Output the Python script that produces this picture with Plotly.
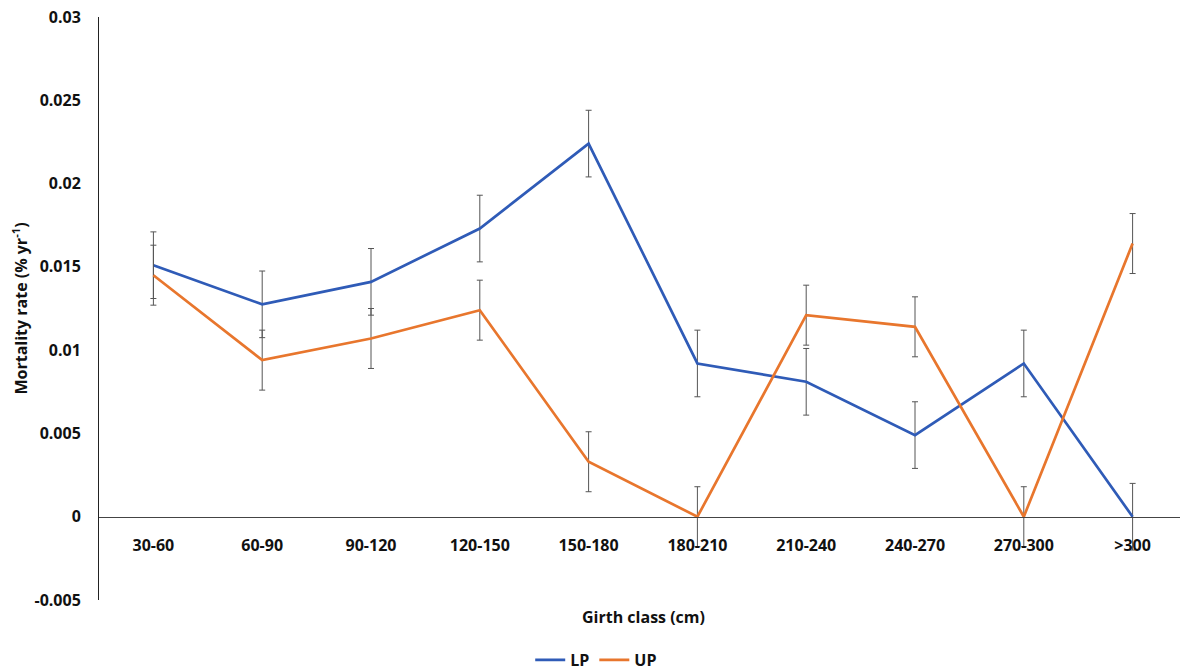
import plotly.graph_objects as go

categories = ["30-60", "60-90", "90-120", "120-150", "150-180", "180-210",
              "210-240", "240-270", "270-300", ">300"]
lp_values = [0.0151, 0.01275, 0.0141, 0.0173, 0.0224, 0.0092, 0.0081, 0.0049, 0.0092, 0.0]
up_values = [0.0145, 0.0094, 0.0107, 0.0124, 0.0033, 0.0, 0.0121, 0.0114, 0.0, 0.0164]
lp_err = [0.002] * 10
up_err = [0.0018] * 10

y_ticks = [-0.005, 0, 0.005, 0.01, 0.015, 0.02, 0.025, 0.03]
y_tick_text = ["-0.005", "0", "0.005", "0.01", "0.015", "0.02", "0.025", "0.03"]

FONT = "Open Sans"
BLUE = "#2F5BB7"
ORANGE = "#E8762D"
ERR = "#555555"
TXT = "#111111"

fig = go.Figure()
fig.add_trace(go.Scatter(
    x=categories, y=lp_values, name="LP", mode="lines",
    line=dict(color=BLUE, width=2.7),
    error_y=dict(type="data", array=lp_err, visible=True, color=ERR, thickness=1, width=3),
))
fig.add_trace(go.Scatter(
    x=categories, y=up_values, name="UP", mode="lines",
    line=dict(color=ORANGE, width=2.7),
    error_y=dict(type="data", array=up_err, visible=True, color=ERR, thickness=1, width=3),
))

y_min, y_max = -0.005, 0.03
zero_pos = (0 - y_min) / (y_max - y_min)

fig.update_layout(
    width=1180, height=664,
    margin=dict(l=91, r=1, t=9, b=72, autoexpand=False),
    paper_bgcolor="white", plot_bgcolor="white",
    font=dict(family=FONT, size=16, color=TXT),
    showlegend=True,
    legend=dict(orientation="h", x=0.457, xanchor="center", y=-0.103, yanchor="middle",
                font=dict(family=FONT, size=16, color=TXT, weight="bold"),
                itemwidth=30, tracegroupgap=0),
    xaxis=dict(
        type="category", range=[-0.5, 9.5],
        anchor="free", position=zero_pos, automargin=False,
        showline=True, linecolor="#444444", linewidth=1,
        showgrid=False, zeroline=False, ticks="",
        ticklabelstandoff=14, ticklabeloverflow="allow",
        tickfont=dict(family=FONT, size=16, color=TXT, weight="bold"),
    ),
    yaxis=dict(
        range=[y_min, y_max], tickvals=y_ticks, ticktext=y_tick_text,
        automargin=False,
        showline=True, linecolor="#222222", linewidth=1,
        showgrid=False, zeroline=False, ticks="",
        ticklabelstandoff=14, ticklabeloverflow="allow",
        tickfont=dict(family=FONT, size=16, color=TXT, weight="bold"),
        title=dict(text="Mortality rate (% yr<sup>-1</sup>)", standoff=12,
                   font=dict(family=FONT, size=16, color=TXT, weight="bold")),
    ),
    annotations=[dict(
        text="Girth class (cm)", xref="paper", yref="paper", x=0.5, y=-0.029,
        xanchor="center", yanchor="middle", showarrow=False,
        font=dict(family=FONT, size=16, color=TXT, weight="bold"),
    )],
)

fig.write_html("out.html")
